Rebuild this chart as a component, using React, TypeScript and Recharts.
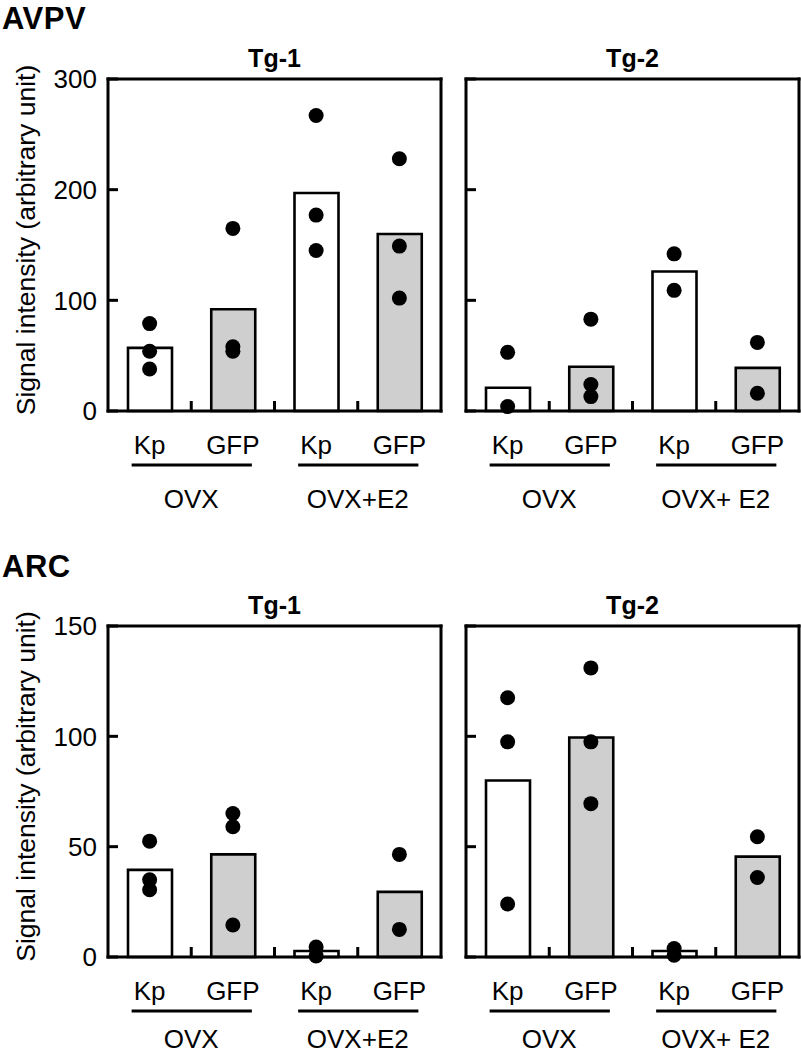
import React from "react";
import { Bar, Cell, ComposedChart, Scatter, XAxis, YAxis } from "recharts";

const FONT = '"Liberation Sans", Arial, Helvetica, sans-serif';

const categories = ["OVX Kp", "OVX GFP", "OVX+E2 Kp", "OVX+E2 GFP"];
const constructs = ["Kp", "GFP", "Kp", "GFP"];
const groupsTg1 = ["OVX", "OVX+E2"];
const groupsTg2 = ["OVX", "OVX+ E2"];
const yLabel = "Signal intensity (arbitrary unit)";

const avpvTicks = [0, 100, 200, 300];
const arcTicks = [0, 50, 100, 150];

// AVPV: bar = mean, points = individual animals
const avpvTg1Means = [57, 92, 197, 160];
const avpvTg1Points = [[79, 54, 38], [165, 58, 54], [267, 177, 145], [228, 149, 102]];
const avpvTg2Means = [21, 40, 126, 39];
const avpvTg2Points = [[53, 4], [83, 24, 13], [142, 109], [62, 16]];

// ARC
const arcTg1Means = [39.5, 46.5, 2.7, 29.5];
const arcTg1Points = [[52.5, 35, 30.5], [65, 59, 14.5], [4.5, 0.5], [46.5, 12.5]];
const arcTg2Means = [80, 99.5, 2.7, 45.5];
const arcTg2Points = [[117.5, 97.5, 24], [131, 97.5, 69.5], [3.8, 0.8], [54.5, 36]];

const FILLS: Record<string, string> = { Kp: "#ffffff", GFP: "#cfcfcf" };
const frameLine = { stroke: "#000", strokeWidth: 3, strokeLinecap: "square" as const };
const pointKeys = ["p1", "p2", "p3"];
const TICK_GAP = 11;
const TICK_LEN = 10;
const textStyle = { fontSize: 26, fill: "#000" };

const dot = (props: any) => {
  const { cx, cy } = props;
  if (cx == null || cy == null || !Number.isFinite(cy)) return <g />;
  return <circle cx={cx} cy={cy} r={7.5} fill="#000" />;
};

const renderYLabel = (props: any) => {
  const vb = props.viewBox ?? { x: 0, y: 0, width: 108, height: 0 };
  const cx = vb.x + 26;
  const cy = vb.y + vb.height / 2 - 5;
  return (
    <text x={cx} y={cy} transform={`rotate(-90 ${cx} ${cy})`} textAnchor="middle" dominantBaseline="central" fontSize={26.5} fill="#000">
      {yLabel}
    </text>
  );
};

const titleLabel = (title: string) => (props: any) => {
  const vb = props.viewBox ?? { x: 0, y: 0, width: 0, height: 0 };
  return (
    <text x={vb.x + vb.width / 2} y={vb.y - 11} textAnchor="middle" fontSize={25} fontWeight="bold" fill="#000">
      {title}
    </text>
  );
};

type PanelProps = {
  title: string;
  means: number[];
  points: number[][];
  groups: string[];
  ticks: number[];
  withLabels: boolean;
  left: number;
  top: number;
  height: number;
  marginTop: number;
  marginBottom: number;
  groupOffset: number;
};

function Panel({ title, means, points, groups, ticks, withLabels, left, top, height, marginTop, marginBottom, groupOffset }: PanelProps) {
  const width = withLabels ? 450 : 351;
  const axisW = withLabels ? 108 : 16;
  // axes drawn as the frame take 1px each
  const margin = { top: marginTop - 1, right: withLabels ? 8 : 1, bottom: marginBottom - 1, left: 0 };
  const band = (width - axisW - margin.right - 1) / categories.length;

  const rows = categories.map((cat, i) => ({
    cat,
    mean: means[i],
    p1: points[i][0],
    p2: points[i][1],
    p3: points[i][2]
  }));

  const renderXTick = (props: any) => {
    const { x, y } = props;
    const index = props.index ?? props.payload?.index ?? 0;
    const first = index % 2 === 0;
    const sepX = x - band / 2;
    return (
      <g>
        {index > 0 && <line x1={sepX} x2={sepX} y1={y} y2={y - TICK_LEN} stroke="#000" strokeWidth={3} />}
        <text x={x} y={y + 43} textAnchor="middle" {...textStyle}>
          {constructs[index]}
        </text>
        {first && (
          <>
            <line x1={x - 18} x2={x + band + 19} y1={y + 54} y2={y + 54} stroke="#000" strokeWidth={3} />
            <text x={x + band / 2} y={y + groupOffset} textAnchor="middle" {...textStyle}>
              {groups[index / 2]}
            </text>
          </>
        )}
      </g>
    );
  };

  const renderYTick = (props: any) => {
    const { x, y, payload } = props;
    const axisX = x + TICK_GAP;
    return (
      <g>
        <line x1={axisX} x2={axisX + TICK_LEN} y1={y} y2={y} stroke="#000" strokeWidth={3} />
        {withLabels && (
          <text x={x} y={y} dy="0.36em" textAnchor="end" {...textStyle}>
            {payload.value}
          </text>
        )}
      </g>
    );
  };

  return (
    <div style={{ position: "absolute", left, top, width, height }}>
      <ComposedChart width={width} height={height} data={rows} margin={margin}>
        <XAxis
          dataKey="cat"
          type="category"
          interval={0}
          height={1}
          tickLine={false}
          tickSize={0}
          tickMargin={0}
          axisLine={frameLine}
          tick={renderXTick}
        />
        <XAxis
          xAxisId="top"
          orientation="top"
          dataKey="cat"
          height={1}
          tick={false}
          tickLine={false}
          axisLine={frameLine}
          label={titleLabel(title)}
        />
        <YAxis
          domain={[0, ticks[ticks.length - 1]]}
          ticks={ticks}
          width={axisW}
          interval={0}
          axisLine={frameLine}
          tickLine={false}
          tickSize={0}
          tickMargin={TICK_GAP}
          tick={renderYTick}
          label={withLabels ? renderYLabel : undefined}
        />
        <YAxis
          yAxisId="right"
          orientation="right"
          width={1}
          domain={[0, 1]}
          allowDataOverflow
          tick={false}
          tickLine={false}
          axisLine={frameLine}
        />
        <Bar dataKey="mean" barSize={44} isAnimationActive={false} stroke="#000" strokeWidth={2.6}>
          {rows.map((r, i) => (
            <Cell key={r.cat} fill={FILLS[constructs[i]]} />
          ))}
        </Bar>
        {pointKeys.map((k) => (
          <Scatter key={k} dataKey={k} isAnimationActive={false} shape={dot} />
        ))}
      </ComposedChart>
    </div>
  );
}

const headStyle: React.CSSProperties = {
  position: "absolute",
  left: 2,
  fontSize: 31,
  fontWeight: "bold",
  letterSpacing: 0.5,
  lineHeight: "31px",
  color: "#000"
};

export default function App() {
  return (
    <div style={{ position: "absolute", left: 0, top: 0, width: 801, height: 1053, background: "#fff", fontFamily: FONT }}>
      <div style={{ ...headStyle, top: 2.8 }}>AVPV</div>
      <div style={{ ...headStyle, top: 550.8 }}>ARC</div>
      <Panel title="Tg-1" means={avpvTg1Means} points={avpvTg1Points} groups={groupsTg1} ticks={avpvTicks}
        withLabels left={0} top={0} height={520} marginTop={79} marginBottom={109} groupOffset={97} />
      <Panel title="Tg-2" means={avpvTg2Means} points={avpvTg2Points} groups={groupsTg2} ticks={avpvTicks}
        withLabels={false} left={450} top={0} height={520} marginTop={79} marginBottom={109} groupOffset={97} />
      <Panel title="Tg-1" means={arcTg1Means} points={arcTg1Points} groups={groupsTg1} ticks={arcTicks}
        withLabels left={0} top={530} height={523} marginTop={96} marginBottom={96} groupOffset={91} />
      <Panel title="Tg-2" means={arcTg2Means} points={arcTg2Points} groups={groupsTg2} ticks={arcTicks}
        withLabels={false} left={450} top={530} height={523} marginTop={96} marginBottom={96} groupOffset={91} />
    </div>
  );
}
